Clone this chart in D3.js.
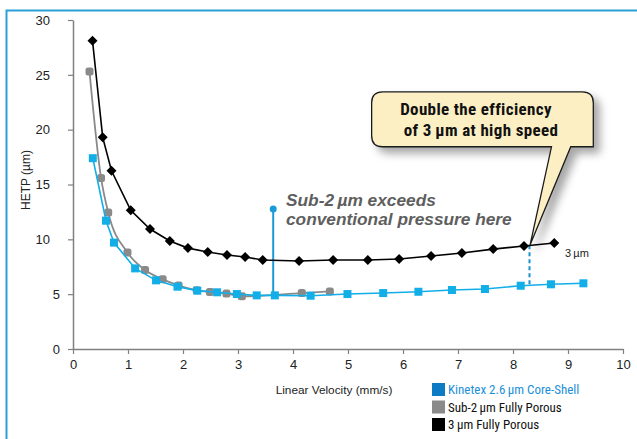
<!DOCTYPE html>
<html>
<head>
<meta charset="utf-8">
<script src="https://cdn.jsdelivr.net/npm/d3@7"></script>
<style>
html,body{margin:0;padding:0;background:#fff;}
svg{display:block;font-family:Arial,"Liberation Sans",Helvetica,sans-serif;}
</style>
</head>
<body>
<svg id="chart" width="637" height="439"></svg>
<script>
// ---- data ----
const xTicks = [0,1,2,3,4,5,6,7,8,9,10];
const yTicks = [0,5,10,15,20,25,30];

const blueX  = [0.36,0.60,0.745,1.13,1.51,1.90,2.26,2.62,2.98,3.34,3.67,4.32,4.99,5.64,6.28,6.89,7.49,8.14,8.69,9.28];
const blueY  = [17.4,11.7,9.7,7.35,6.26,5.68,5.32,5.17,5.01,4.89,4.89,4.86,5.01,5.10,5.22,5.38,5.47,5.77,5.90,5.99];

const grayX  = [0.30,0.51,0.64,0.99,1.31,1.63,1.92,2.25,2.49,2.79,3.07,4.16,4.67];
const grayY  = [25.3,15.6,12.45,8.8,7.2,6.35,5.8,5.35,5.2,5.07,4.8,5.1,5.25];

const blackX = [0.355,0.54,0.70,1.05,1.40,1.76,2.09,2.45,2.80,3.13,3.45,4.11,4.73,5.36,5.93,6.51,7.07,7.64,8.20,8.75];
const blackY = [28.1,19.3,16.25,12.65,10.94,9.85,9.2,8.84,8.57,8.39,8.11,8.02,8.11,8.11,8.2,8.48,8.75,9.11,9.39,9.66];

const legendLabels = ["Kinetex 2.6\u2009\u00b5m Core-Shell","Sub-2\u2009\u00b5m Fully Porous","3\u2009\u00b5m Fully Porous"];

// annotation anchors (data space)
const sub2Marker = {x:3.64, yTop:12.76, yBottom:4.89};
const dashMarker = {x:8.30, yTop:9.45, yBottom:5.8};
const callout = {x0:5.43, x1:9.46, yTop:23.45, yBottom:18.44, baseL:8.70, baseR:9.05, tipX:8.31, tipY:9.48};

// ---- scales ----
const svg = d3.select("#chart");
const x = d3.scaleLinear().domain([0,10]).range([73,623]);
const y = d3.scaleLinear().domain([0,30]).range([349,20]);

const defs = svg.append("defs");
const f = defs.append("filter").attr("id","shadow").attr("x","-20%").attr("y","-20%").attr("width","150%").attr("height","160%");
f.append("feDropShadow").attr("dx",6).attr("dy",6).attr("stdDeviation",4).attr("flood-color","#000").attr("flood-opacity",0.35);

// frame
svg.append("path").attr("d","M6.5,439 L6.5,10.5 L637,10.5").attr("fill","none").attr("stroke","#2a9fd8").attr("stroke-width",2);

// axes
const axisColor = "#808080";
const gx = svg.append("g").attr("transform",`translate(0,${y(0)})`)
  .call(d3.axisBottom(x).tickValues(xTicks).tickSize(5).tickPadding(6).tickSizeOuter(0));
const gy = svg.append("g").attr("transform",`translate(${x(0)},0)`)
  .call(d3.axisLeft(y).tickValues(yTicks).tickSize(5).tickPadding(18).tickSizeOuter(0));
[gx,gy].forEach(g=>{
  g.select(".domain").attr("stroke",axisColor).attr("stroke-width",1.5);
  g.selectAll(".tick line").attr("stroke",axisColor).attr("stroke-width",1.2);
  g.selectAll(".tick text").attr("fill","#222").style("font-size","13px").style("font-family","Arial,'Liberation Sans',sans-serif");
});
gy.selectAll(".tick text").attr("dx",d=>String(d).length===1 ? 10 : 0);

svg.append("text").attr("x",334).attr("y",394).attr("text-anchor","middle")
  .style("font-size","11.8px").attr("fill","#222").text("Linear Velocity (mm/s)");
svg.append("text").attr("transform","translate(30,180) rotate(-90)").attr("text-anchor","middle")
  .style("font-size","12px").attr("fill","#222").text("HETP (\u00b5m)");

// series
const blueC = "#12aee8", grayC = "#8a8a8a", blackC = "#000";
function pts(xs,ys){return xs.map((v,i)=>[v,ys[i]]);}
const line = d3.line().x(d=>x(d[0])).y(d=>y(d[1]));
const smooth = d3.line().x(d=>x(d[0])).y(d=>y(d[1])).curve(d3.curveMonotoneX);

// sub-2 marker (behind)
svg.append("line").attr("x1",x(sub2Marker.x)).attr("x2",x(sub2Marker.x))
  .attr("y1",y(sub2Marker.yTop)).attr("y2",y(sub2Marker.yBottom))
  .attr("stroke","#1a9ad8").attr("stroke-width",2);
svg.append("circle").attr("cx",x(sub2Marker.x)).attr("cy",y(sub2Marker.yTop)).attr("r",3.5).attr("fill","#1a9ad8");

// dashed marker
svg.append("line").attr("x1",x(dashMarker.x)).attr("x2",x(dashMarker.x))
  .attr("y1",y(dashMarker.yTop)).attr("y2",y(dashMarker.yBottom))
  .attr("stroke","#1a8fd0").attr("stroke-width",2).attr("stroke-dasharray","4,3");

// gray
const gray = pts(grayX,grayY);
svg.append("path").attr("d",smooth(gray)).attr("fill","none").attr("stroke",grayC).attr("stroke-width",1.8);
svg.append("g").selectAll("rect").data(gray).join("rect")
  .attr("x",d=>x(d[0])-4).attr("y",d=>y(d[1])-4).attr("width",8).attr("height",8).attr("rx",2.5)
  .attr("fill",grayC);

// blue
const blue = pts(blueX,blueY);
svg.append("path").attr("d",line(blue)).attr("fill","none").attr("stroke",blueC).attr("stroke-width",1.6);
svg.append("g").selectAll("rect").data(blue).join("rect")
  .attr("x",d=>x(d[0])-4).attr("y",d=>y(d[1])-4).attr("width",8).attr("height",8)
  .attr("fill",blueC);

// black
const black = pts(blackX,blackY);
svg.append("path").attr("d",line(black)).attr("fill","none").attr("stroke",blackC).attr("stroke-width",1.6);
svg.append("g").selectAll("path").data(black).join("path")
  .attr("d","M0,-5 L5,0 L0,5 L-5,0 Z")
  .attr("transform",d=>`translate(${x(d[0])},${y(d[1])})`)
  .attr("fill",blackC);

// annotation text
const sub2Text = svg.append("text").attr("x",286).attr("y",206)
  .style("font-size","17.3px").style("font-weight","bold").style("font-style","italic").attr("fill","#5e5e5e");
sub2Text.append("tspan").attr("x",286).attr("dy",0).text("Sub-2\u2009\u00b5m exceeds");
sub2Text.append("tspan").attr("x",286).attr("dy",19).text("conventional pressure here");

svg.append("text").attr("x",565).attr("y",257).style("font-size","11px").attr("fill","#222").text("3\u2009\u00b5m");

// callout
const cx0=x(callout.x0), cx1=x(callout.x1), cyT=y(callout.yTop), cyB=y(callout.yBottom), r=11;
const bL=x(callout.baseL), bR=x(callout.baseR), tx=x(callout.tipX), ty=y(callout.tipY);
const cpath = `M${cx0+r},${cyT} L${cx1-r},${cyT} Q${cx1},${cyT} ${cx1},${cyT+r} L${cx1},${cyB} L${bR},${cyB} L${tx},${ty} L${bL},${cyB} L${cx0+r},${cyB} Q${cx0},${cyB} ${cx0},${cyB-r} L${cx0},${cyT+r} Q${cx0},${cyT} ${cx0+r},${cyT} Z`;
svg.append("path").attr("d",cpath).attr("fill","#fdefc4").attr("stroke","#1a1a1a").attr("stroke-width",1.3)
  .attr("filter","url(#shadow)");
const ct = svg.append("text").attr("text-anchor","middle")
  .style("font-family","'Liberation Sans Narrow','Roboto Condensed','Arial Narrow',Arial,sans-serif")
  .style("font-weight","bold").style("font-size","17px").style("letter-spacing","0.35px").attr("fill","#111");
ct.append("tspan").attr("x",476).attr("y",115).text("Double the efficiency");
ct.append("tspan").attr("x",481).attr("y",136).text("of 3\u2009\u00b5m at high speed");

// legend
const legColors = ["#0b7cc4","#8a8a8a","#000"];
const legText = ["#1a8fd8","#111","#111"];
const lg = svg.append("g");
legendLabels.forEach((t,i)=>{
  const yy = 383 + i*17.5;
  lg.append("rect").attr("x",432).attr("y",yy).attr("width",13).attr("height",13).attr("fill",legColors[i]);
  lg.append("text").attr("x",448).attr("y",yy+11)
    .style("font-family","'Liberation Sans Narrow','Roboto Condensed','Arial Narrow',Arial,sans-serif")
    .style("font-size","13px").attr("fill",legText[i]).text(t);
});
</script>
</body>
</html>
